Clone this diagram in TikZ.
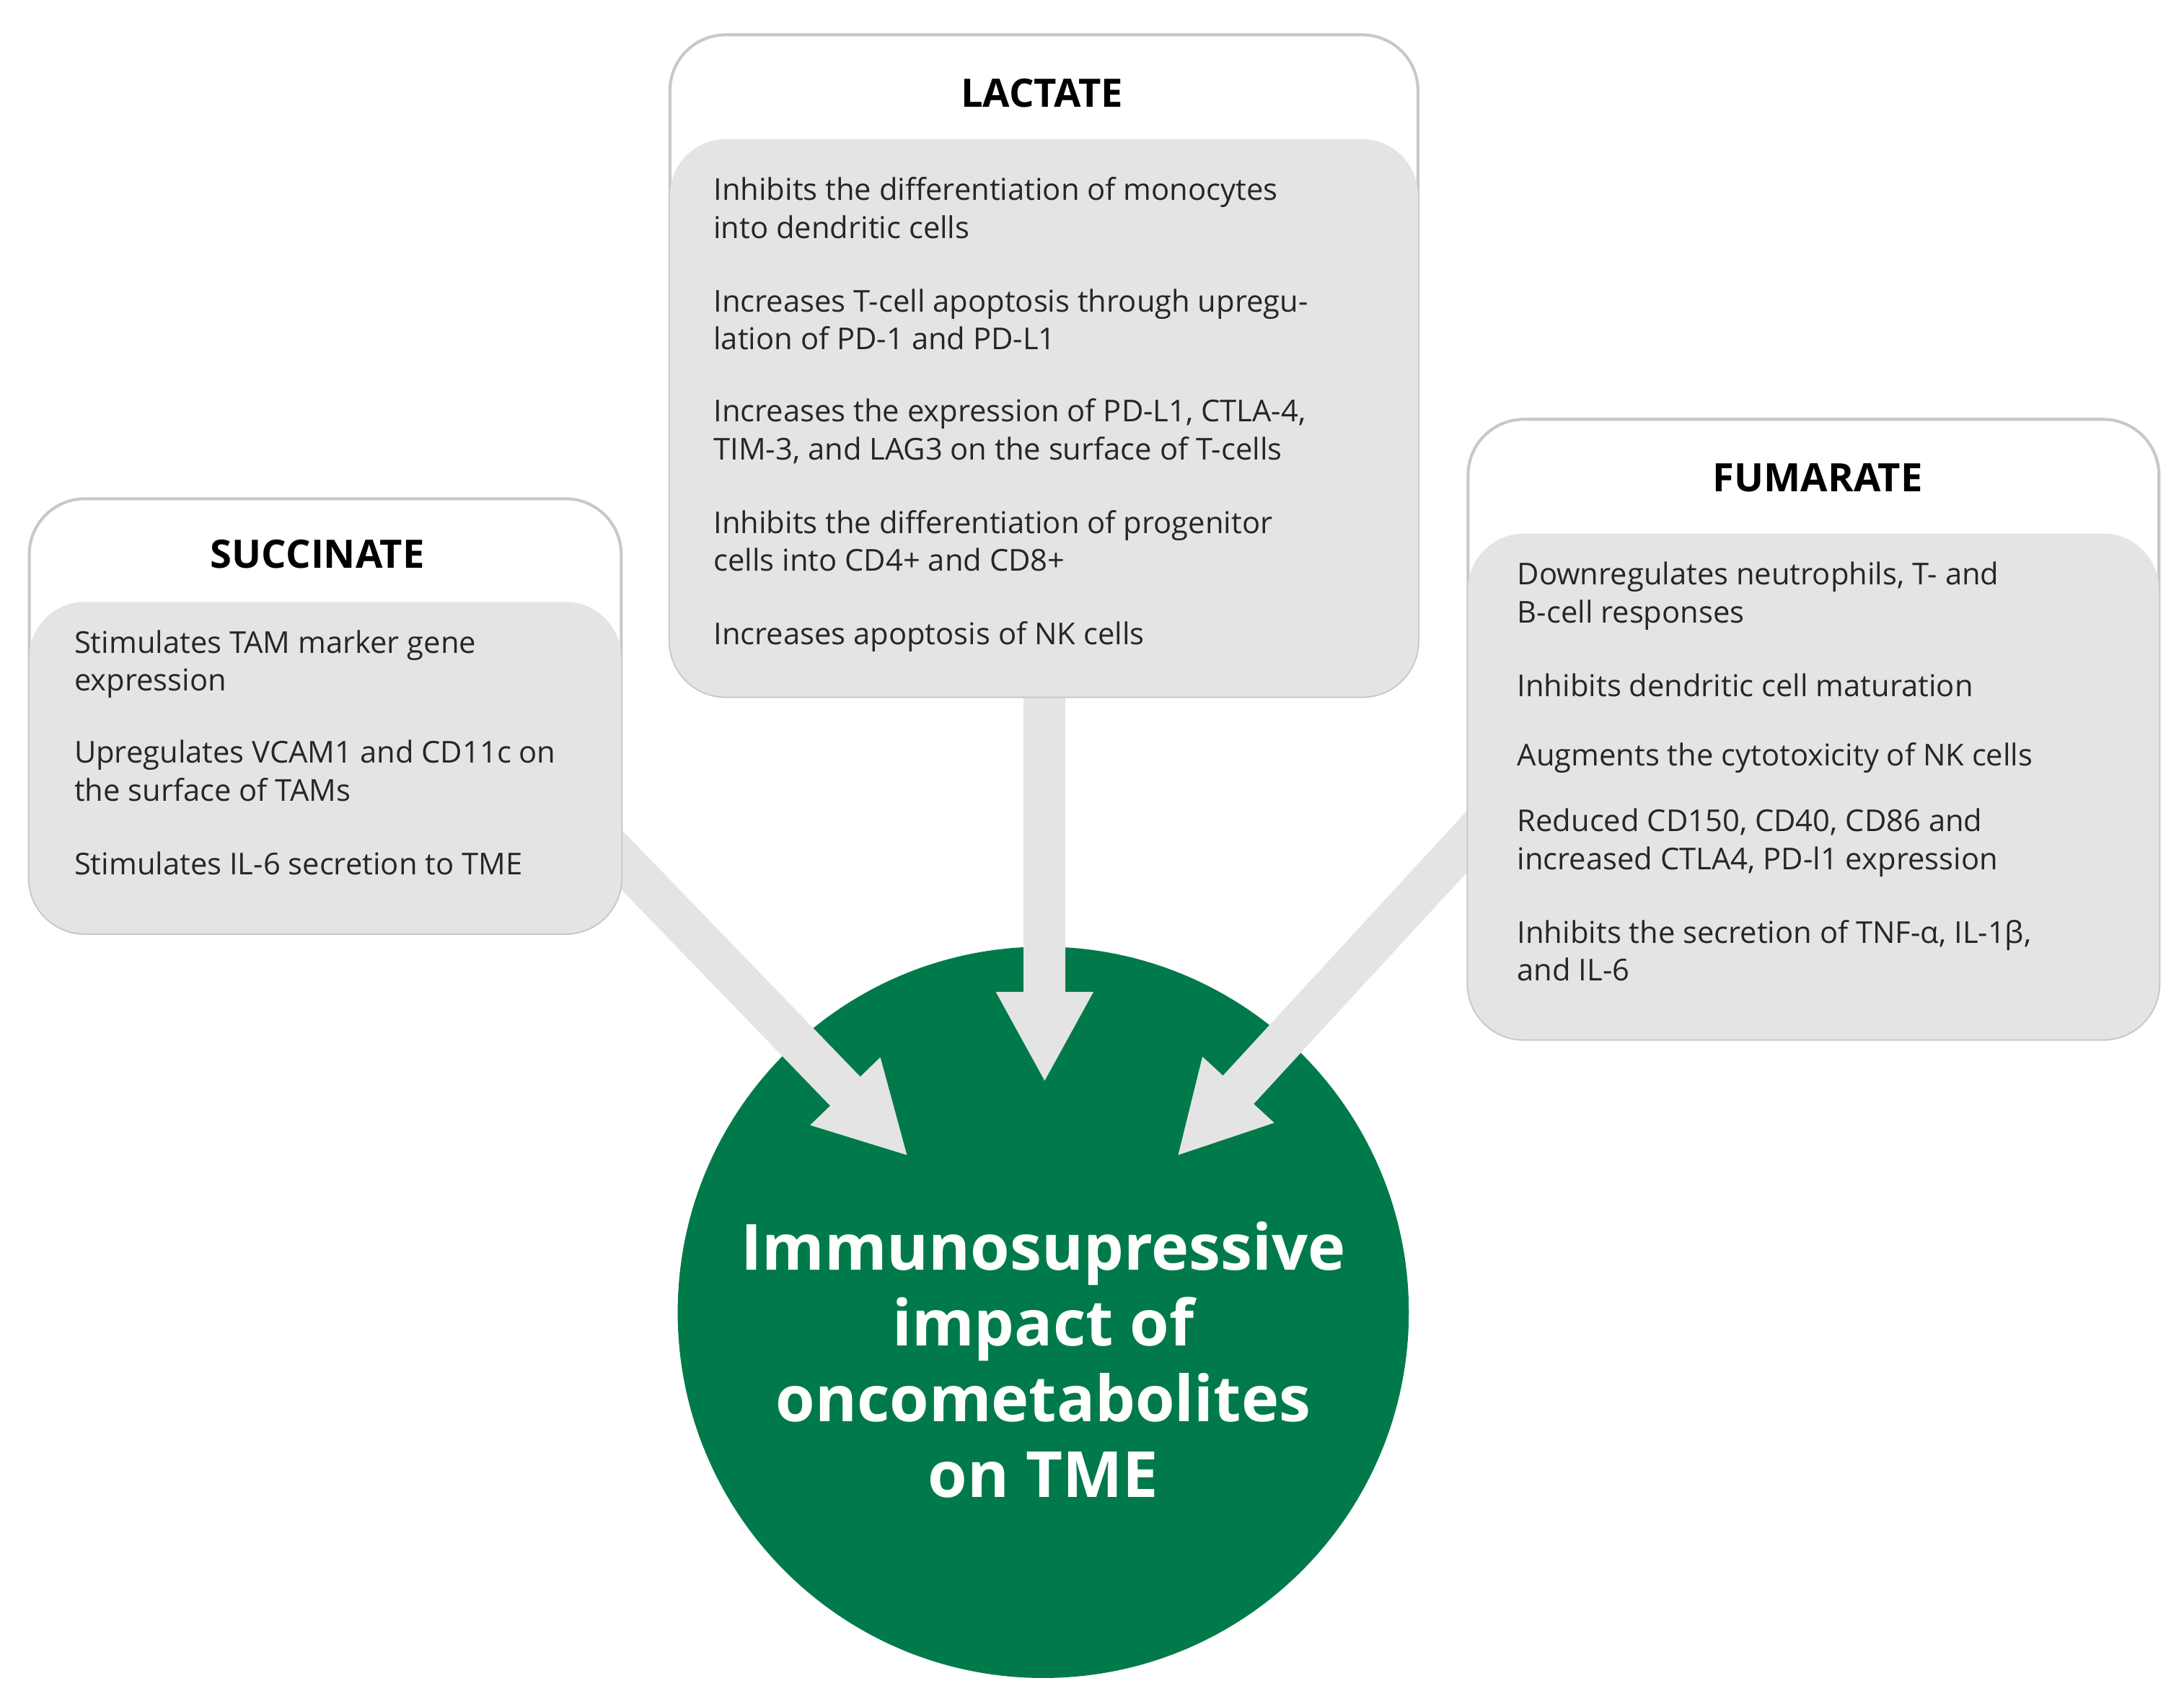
\documentclass[tikz,border=0pt]{standalone}
\usepackage{fontspec}
\setmainfont{Open Sans}
\usetikzlibrary{arrows.meta}
\definecolor{tgreen}{HTML}{007A4A}
\definecolor{boxgray}{HTML}{E4E4E4}
\definecolor{edgegray}{HTML}{C8C8C8}
\begin{document}
\begin{tikzpicture}[x=0.02cm,y=-0.02cm,
  outer/.style={draw=edgegray,line width=1.2pt,fill=white,rounded corners=0.8cm},
  inner/.style={fill=boxgray,rounded corners=0.8cm},
  ttl/.style={font=\fontsize{16}{19}\selectfont\bfseries},
  item/.style={anchor=north west,inner sep=0pt,align=left,font=\fontsize{12.3}{15.5}\selectfont,text=black!85},
  arr/.style={boxgray,line width=0.6cm,-{Triangle[length=1.3cm,width=1.3cm]}}]
\useasboundingbox (0,0) rectangle (1568,1223);
% circle
\node[circle,fill=tgreen,minimum size=10.5cm,inner sep=0pt] (c) at (749,942) {};
\node[text=white,align=center,font=\fontsize{26}{31}\selectfont\bfseries] (ct) at (749,976)
 {Immunosupressive\\impact of\\oncometabolites\\on TME};
% arrows
\coordinate (la) at (750,480); \coordinate (lt) at (750,777);
\coordinate (sa) at (420,590); \coordinate (st) at (652,830);
\coordinate (fa) at (1080,575); \coordinate (ft) at (845,830);
\draw[arr] (la) -- (lt);
\draw[arr] (sa) -- (st);
\draw[arr] (fa) -- (ft);
% LACTATE
\draw[outer] (481,500) rectangle (1018,25);
\fill[inner] (481,100) rectangle (1018,500);
\node[ttl] (lt1) at (748,67) {LACTATE};
\node[item] (l1) at (512,127) {Inhibits the differentiation of monocytes\\into dendritic cells};
\node[item] (l2) at (512,207) {Increases T-cell apoptosis through upregu-\\lation of PD-1 and PD-L1};
\node[item] (l3) at (512,286) {Increases the expression of PD-L1, CTLA-4,\\TIM-3, and LAG3 on the surface of T-cells};
\node[item] (l4) at (512,366) {Inhibits the differentiation of progenitor\\cells into CD4+ and CD8+};
\node[item] (l5) at (512,446) {Increases apoptosis of NK cells};
% SUCCINATE
\draw[outer] (21,670) rectangle (446,358);
\fill[inner] (21,432) rectangle (446,670);
\node[ttl] (s0) at (228,398) {SUCCINATE};
\node[item] (s1) at (53,452) {Stimulates TAM marker gene\\expression};
\node[item] (s2) at (53,531) {Upregulates VCAM1 and CD11c on\\the surface of TAMs};
\node[item] (s3) at (53,611) {Stimulates IL-6 secretion to TME};
% FUMARATE
\draw[outer] (1054,746) rectangle (1550,301);
\fill[inner] (1054,383) rectangle (1550,746);
\node[ttl] (f0) at (1305,343) {FUMARATE};
\node[item] (f1) at (1089,403) {Downregulates neutrophils, T- and\\B-cell responses};
\node[item] (f2) at (1089,483) {Inhibits dendritic cell maturation};
\node[item] (f3) at (1089,533) {Augments the cytotoxicity of NK cells};
\node[item] (f4) at (1089,580) {Reduced CD150, CD40, CD86 and\\increased CTLA4, PD-l1 expression};
\node[item] (f5) at (1089,660) {Inhibits the secretion of TNF-α, IL-1β,\\and IL-6};
\end{tikzpicture}
\end{document}
